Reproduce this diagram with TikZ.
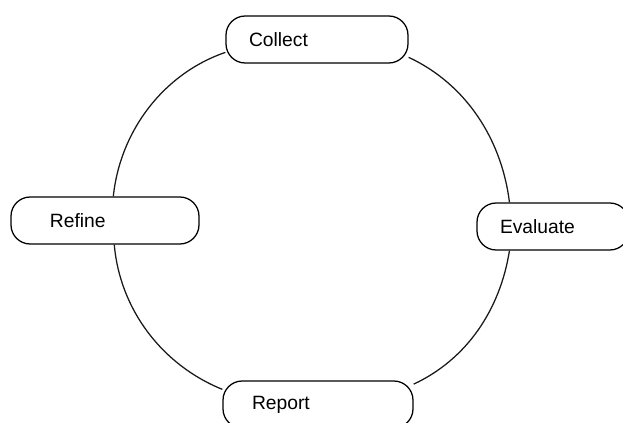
\documentclass[tikz,border=0pt]{standalone}
\usepackage{fontspec}
\usepackage{tikz}
\newfontfamily\stagefont{Liberation Sans}
\tikzstyle{stagebox} = [
    draw=black,
    fill=white,
    line width=0.9pt,
    rounded corners=0.48cm,
    minimum height=1.175cm,
    inner ysep=0pt,
    align=left,
    font={\stagefont\fontsize{13.7}{16}\selectfont}
    ]
\tikzstyle{cycleline} = [
    draw=black!90,
    line width=0.9pt,
    looseness=0.92
    ]

\begin{document}
\begin{tikzpicture}
\useasboundingbox (0,0) rectangle (15.575,10.55);

% the four stages
\node[stagebox, text width=3.4cm, inner xsep=0.575cm] (collect) at (7.925,9.5625) {Collect};
\node[stagebox, text width=2.65cm, inner xsep=0.575cm] (evaluate) at (13.825,4.8875) {Evaluate};
\node[stagebox, text width=3.3cm, inner xsep=0.725cm] (report) at (7.95,0.4375) {Report};
\node[stagebox, text width=2.75cm, inner xsep=0.975cm] (refine) at (2.625,5.0375) {Refine};

% the cycle
\draw[cycleline] (refine.71) to[out=84, in=199] (collect.188);
\draw[cycleline] (collect.349) to[out=-25, in=97] (evaluate.151);
\draw[cycleline] (evaluate.209) to[out=-99, in=25] (report.12);
\draw[cycleline] (report.171) to[out=158, in=-85] (refine.291);
\end{tikzpicture}
\end{document}
